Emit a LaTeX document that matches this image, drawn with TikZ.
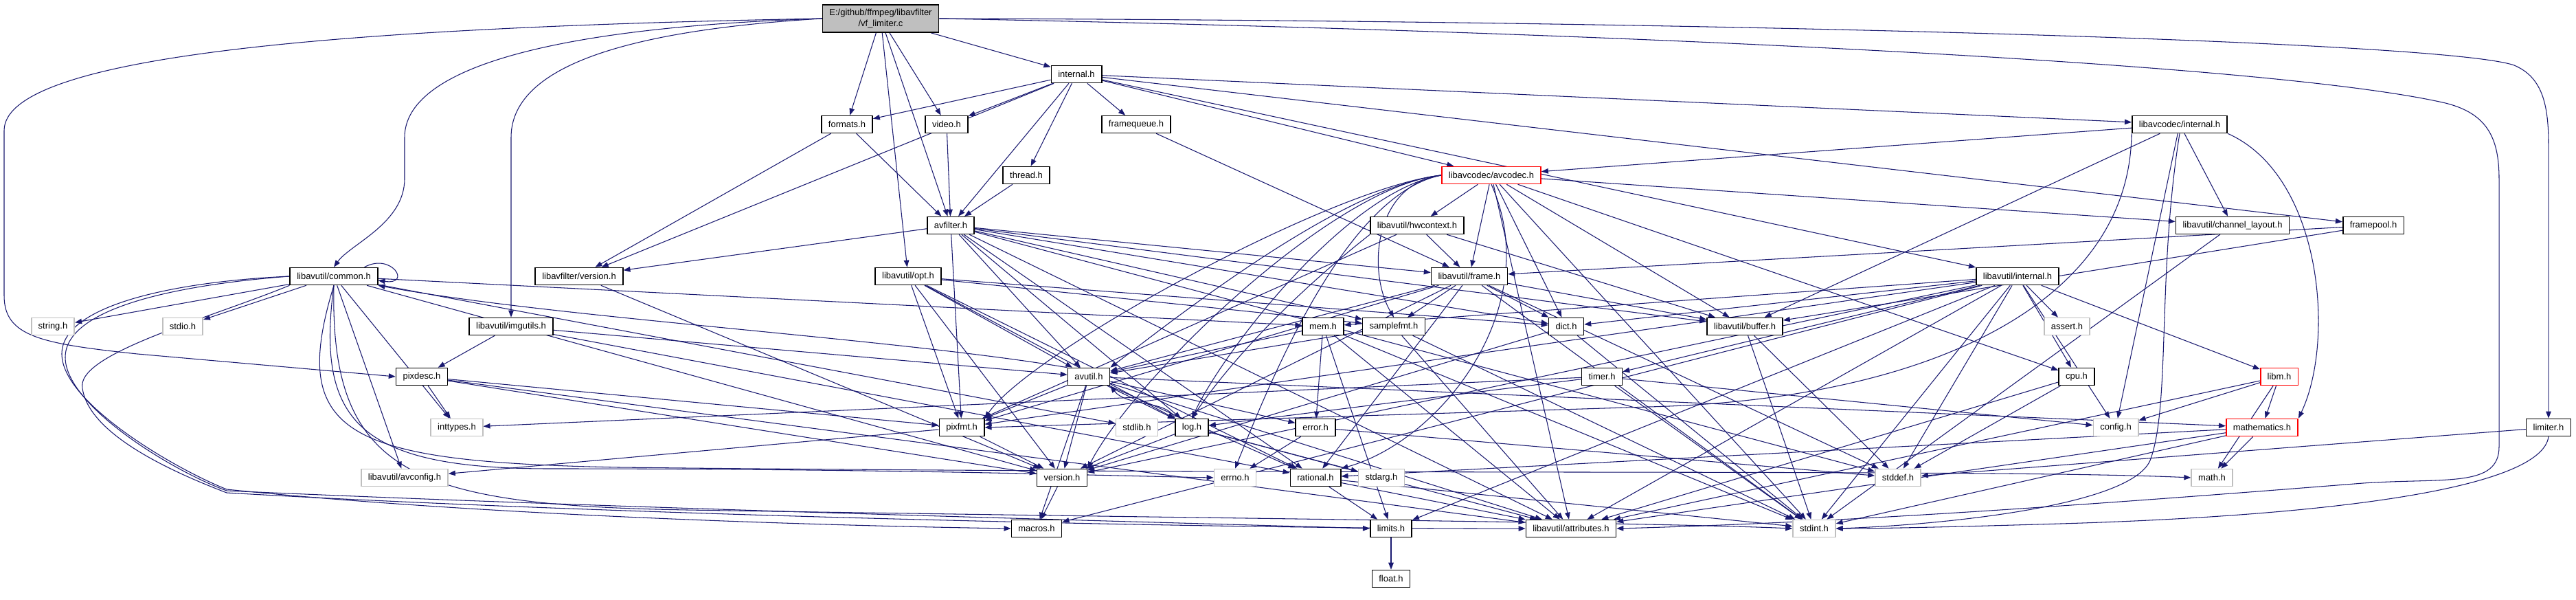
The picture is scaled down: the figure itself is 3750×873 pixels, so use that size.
\documentclass[tikz,border=0pt]{standalone}
\usepackage{fontspec}
\setmainfont{Liberation Sans}
\usetikzlibrary{arrows.meta}
\definecolor{edgec}{HTML}{191970}
\definecolor{greyb}{HTML}{BFBFBF}
\pgfdeclarelayer{bg}
\pgfsetlayers{bg,main}
\begin{document}
\begin{tikzpicture}[x=0.01cm, y=-0.01cm,
  hdr/.style={draw=black, line width=0.45pt, fill=white, minimum height=0.25cm, inner xsep=0.1cm, inner ysep=0pt, font=\fontsize{3.69pt}{4.4pt}\selectfont},
  sys/.style={hdr, draw=greyb},
  trunc/.style={hdr, draw=red},
  topnode/.style={hdr, fill=greyb, minimum height=0.4cm, align=center},
  dep/.style={draw=edgec, line width=0.3pt, -{Triangle[length=1mm,width=0.75mm]}}]
\useasboundingbox (0,0) rectangle (3750,873);

\node[topnode] (main) at (1282,27) {E:/github/ffmpeg/libavfilter\\/vf\_limiter.c};
\node[hdr] (internal) at (1567,108) {internal.h};
\node[hdr] (formats) at (1233,181) {formats.h};
\node[hdr] (video) at (1378,181) {video.h};
\node[hdr] (framequeue) at (1654,181) {framequeue.h};
\node[hdr] (lavcinternal) at (3173,181) {libavcodec/internal.h};
\node[hdr] (thread) at (1494,255) {thread.h};
\node[trunc] (avcodec) at (2171,255) {libavcodec/avcodec.h};
\node[hdr] (avfilter) at (1384,328) {avfilter.h};
\node[hdr] (hwcontext) at (2063,328) {libavutil/hwcontext.h};
\node[hdr] (chlayout) at (3250,328) {libavutil/channel\_layout.h};
\node[hdr] (framepool) at (3455,328) {framepool.h};
\node[hdr] (common) at (486,402) {libavutil/common.h};
\node[hdr] (lavfversion) at (843,402) {libavfilter/version.h};
\node[hdr] (opt) at (1322,402) {libavutil/opt.h};
\node[hdr] (frame) at (2139,402) {libavutil/frame.h};
\node[hdr] (lavuinternal) at (2937,402) {libavutil/internal.h};
\node[sys] (string) at (77,475) {string.h};
\node[sys] (stdio) at (266,475) {stdio.h};
\node[hdr] (imgutils) at (744,475) {libavutil/imgutils.h};
\node[hdr] (mem) at (1926,475) {mem.h};
\node[hdr] (samplefmt) at (2029,475) {samplefmt.h};
\node[hdr] (dict) at (2280,475) {dict.h};
\node[hdr] (buffer) at (2540,475) {libavutil/buffer.h};
\node[sys] (assert) at (3009,475) {assert.h};
\node[hdr] (pixdesc) at (614,548) {pixdesc.h};
\node[hdr] (avutil) at (1585,548) {avutil.h};
\node[hdr] (timer) at (2332,548) {timer.h};
\node[hdr] (cpu) at (3023,548) {cpu.h};
\node[trunc] (libm) at (3318,548) {libm.h};
\node[sys] (inttypes) at (665,622) {inttypes.h};
\node[hdr] (pixfmt) at (1400,622) {pixfmt.h};
\node[sys] (stdlib) at (1655,622) {stdlib.h};
\node[hdr] (log) at (1735,622) {log.h};
\node[hdr] (error) at (1915,622) {error.h};
\node[sys] (config) at (3080,622) {config.h};
\node[trunc] (mathematics) at (3293,622) {mathematics.h};
\node[hdr] (limiter) at (3710,622) {limiter.h};
\node[sys] (avconfig) at (589,695) {libavutil/avconfig.h};
\node[hdr] (version) at (1546,695) {version.h};
\node[sys] (errno) at (1798,695) {errno.h};
\node[hdr] (rational) at (1915,695) {rational.h};
\node[sys] (stdarg) at (2011,695) {stdarg.h};
\node[sys] (stddef) at (2763,695) {stddef.h};
\node[sys] (math) at (3220,695) {math.h};
\node[hdr] (macros) at (1509,769) {macros.h};
\node[hdr] (limits) at (2025,769) {limits.h};
\node[hdr] (attributes) at (2287,769) {libavutil/attributes.h};
\node[sys] (stdint) at (2641,769) {stdint.h};
\node[hdr] (float) at (2025,842) {float.h};

\begin{pgfonlayer}{bg}
\fill[white] (0,0) rectangle (3750,873);
\foreach \s/\t in {main/opt, main/avfilter, main/formats, main/internal, main/video,
  internal/formats, internal/video, internal/lavfversion, internal/thread, internal/avfilter,
  internal/framequeue, internal/framepool, internal/lavcinternal, internal/lavuinternal, internal/avcodec,
  formats/avfilter, formats/lavfversion, video/avfilter, thread/avfilter, framequeue/frame,
  lavcinternal/avcodec, lavcinternal/chlayout, lavcinternal/buffer, lavcinternal/config,
  avcodec/attributes, avcodec/buffer, avcodec/cpu, avcodec/chlayout,
  avcodec/dict, avcodec/frame, avcodec/hwcontext, avcodec/stdint,
  avfilter/lavfversion, avfilter/attributes, avfilter/avutil, avfilter/buffer, avfilter/dict,
  avfilter/frame, avfilter/log, avfilter/samplefmt, avfilter/pixfmt, avfilter/rational, avfilter/stddef,
  hwcontext/buffer, hwcontext/frame, hwcontext/pixfmt,
  framepool/buffer, framepool/frame, chlayout/stdint,
  common/string, common/stdio, common/inttypes, common/stdlib, common/version, common/avconfig, common/mem,
  lavfversion/version,
  opt/rational, opt/avutil, opt/dict, opt/log, opt/pixfmt, opt/samplefmt, opt/version,
  frame/stddef, frame/stdint, frame/avutil, frame/buffer, frame/dict, frame/rational, frame/samplefmt,
  frame/pixfmt, frame/version,
  lavuinternal/timer, lavuinternal/assert, lavuinternal/cpu, lavuinternal/dict, lavuinternal/macros,
  lavuinternal/mem, lavuinternal/pixfmt, lavuinternal/version, lavuinternal/libm, lavuinternal/config,
  lavuinternal/attributes, lavuinternal/limits, lavuinternal/stdint, lavuinternal/stddef,
  imgutils/avutil, imgutils/pixdesc, imgutils/rational,
  mem/limits, mem/stdint, mem/attributes, mem/error, mem/avutil,
  samplefmt/stdint, samplefmt/avutil, samplefmt/attributes,
  dict/stdint, dict/version, buffer/stddef, buffer/stdint,
  pixdesc/inttypes, pixdesc/attributes, pixdesc/pixfmt, pixdesc/version,
  avutil/error, avutil/rational, avutil/version, avutil/macros, avutil/mathematics, avutil/log,
  avutil/pixfmt, avutil/attributes,
  timer/config, timer/stdint, timer/log, timer/inttypes,
  cpu/stddef, cpu/attributes,
  libm/math, libm/config, libm/attributes, libm/mathematics,
  log/stdarg, log/attributes, log/version,
  pixfmt/avconfig, pixfmt/version, error/errno, error/stddef,
  mathematics/stdint, mathematics/math, mathematics/attributes, mathematics/rational,
  limiter/stddef, rational/stdint, rational/limits, rational/attributes,
  version/macros, limits/float}
  \draw[dep] (\s) -- (\t);

% routed connectors
\draw[dep] (avcodec.west) .. controls (1950,272) and (1700,472) .. (avutil.north east);
\draw[dep] (avcodec.west) .. controls (1960,278) and (1780,512) .. (log.north);
\draw[dep] (avcodec.west) .. controls (1940,272) and (1500,512) .. (pixfmt.north east);
\draw[dep] (avcodec.west) .. controls (1940,270) and (1650,552) .. (version.north east);
\draw[dep] (avcodec.west) .. controls (1960,282) and (1850,552) .. (errno.north);
\draw[dep] (avcodec.west) .. controls (2000,268) and (1990,395) .. (samplefmt.north);
\draw[dep] (avcodec.south) .. controls (2250,445) and (2100,640) .. (rational.north east);
\draw[dep] (hwcontext.south west) .. controls (1900,415) and (1800,512) .. (log.north);
\draw[dep] (main.west) .. controls (500,40) and (6,80) .. (6,190) -- (6,430) .. controls (6,490) and (60,500) .. (200,515) -- (pixdesc.west);
\draw[dep] (main.west) .. controls (800,40) and (589,100) .. (589,200) -- (589,260) .. controls (589,325) and (510,355) .. (common.north);
\draw[dep] (main.west) .. controls (900,45) and (744,100) .. (744,200) -- (imgutils.north);
\draw[dep] (main.east) .. controls (2500,30) and (3560,60) .. (3660,95) .. controls (3700,112) and (3710,150) .. (3710,210) -- (limiter.north);
\draw[dep] (main.east) .. controls (2300,45) and (3300,90) .. (3560,150) .. controls (3620,165) and (3638,200) .. (3638,260) -- (3638,650) .. controls (3638,710) and (3560,695) .. (3440,703) .. controls (3100,730) and (2700,760) .. (attributes.east);
\draw[dep] (limiter.south) .. controls (3700,710) and (3400,750) .. (3000,762) .. controls (2800,768) and (2720,769) .. (stdint.east);
\draw[dep] (lavcinternal.south) .. controls (3140,400) and (3160,590) .. (3130,670) .. controls (3100,740) and (2800,765) .. (stdint.east);
\draw[dep] (lavcinternal.south east) .. controls (3380,255) and (3400,495) .. (mathematics.north east);
\draw[dep] (lavcinternal.south west) .. controls (3100,445) and (2800,582) .. (2400,592) -- (pixfmt.east);
\draw[dep] ([xshift=-0.2cm]common.north east) .. controls (570,367) and (600,415) .. ([yshift=-0.06cm]common.east);
\draw[dep] (common.west) .. controls (250,410) and (90,445) .. (90,515) .. controls (90,585) and (250,680) .. (330,712) .. controls (700,750) and (1200,765) .. (macros.west);
\draw[dep] (common.west) .. controls (250,415) and (95,450) .. (95,520) .. controls (95,590) and (250,685) .. (330,714) .. controls (900,740) and (1700,760) .. (limits.west);
\draw[dep] (common.south west) .. controls (300,465) and (110,515) .. (120,565) .. controls (130,635) and (260,690) .. (330,717) .. controls (900,750) and (1800,770) .. (attributes.west);
\draw[dep] (common.south) .. controls (480,690) and (600,735) .. (1000,742) .. controls (1800,755) and (2400,760) .. (stdint.west);
\draw[dep] (common.south) .. controls (460,612) and (520,682) .. (800,682) .. controls (1300,682) and (1600,692) .. (errno.west);
\draw[dep] (common.south) .. controls (420,632) and (500,672) .. (900,680) .. controls (2000,692) and (2900,682) .. (math.west);
\draw[dep] (avutil.north west) .. controls (1300,492) and (800,462) .. (common.south east);
\draw[dep] (log.north west) .. controls (1700,582) and (1640,592) .. (avutil.south east);
\end{pgfonlayer}
\end{tikzpicture}
\end{document}
